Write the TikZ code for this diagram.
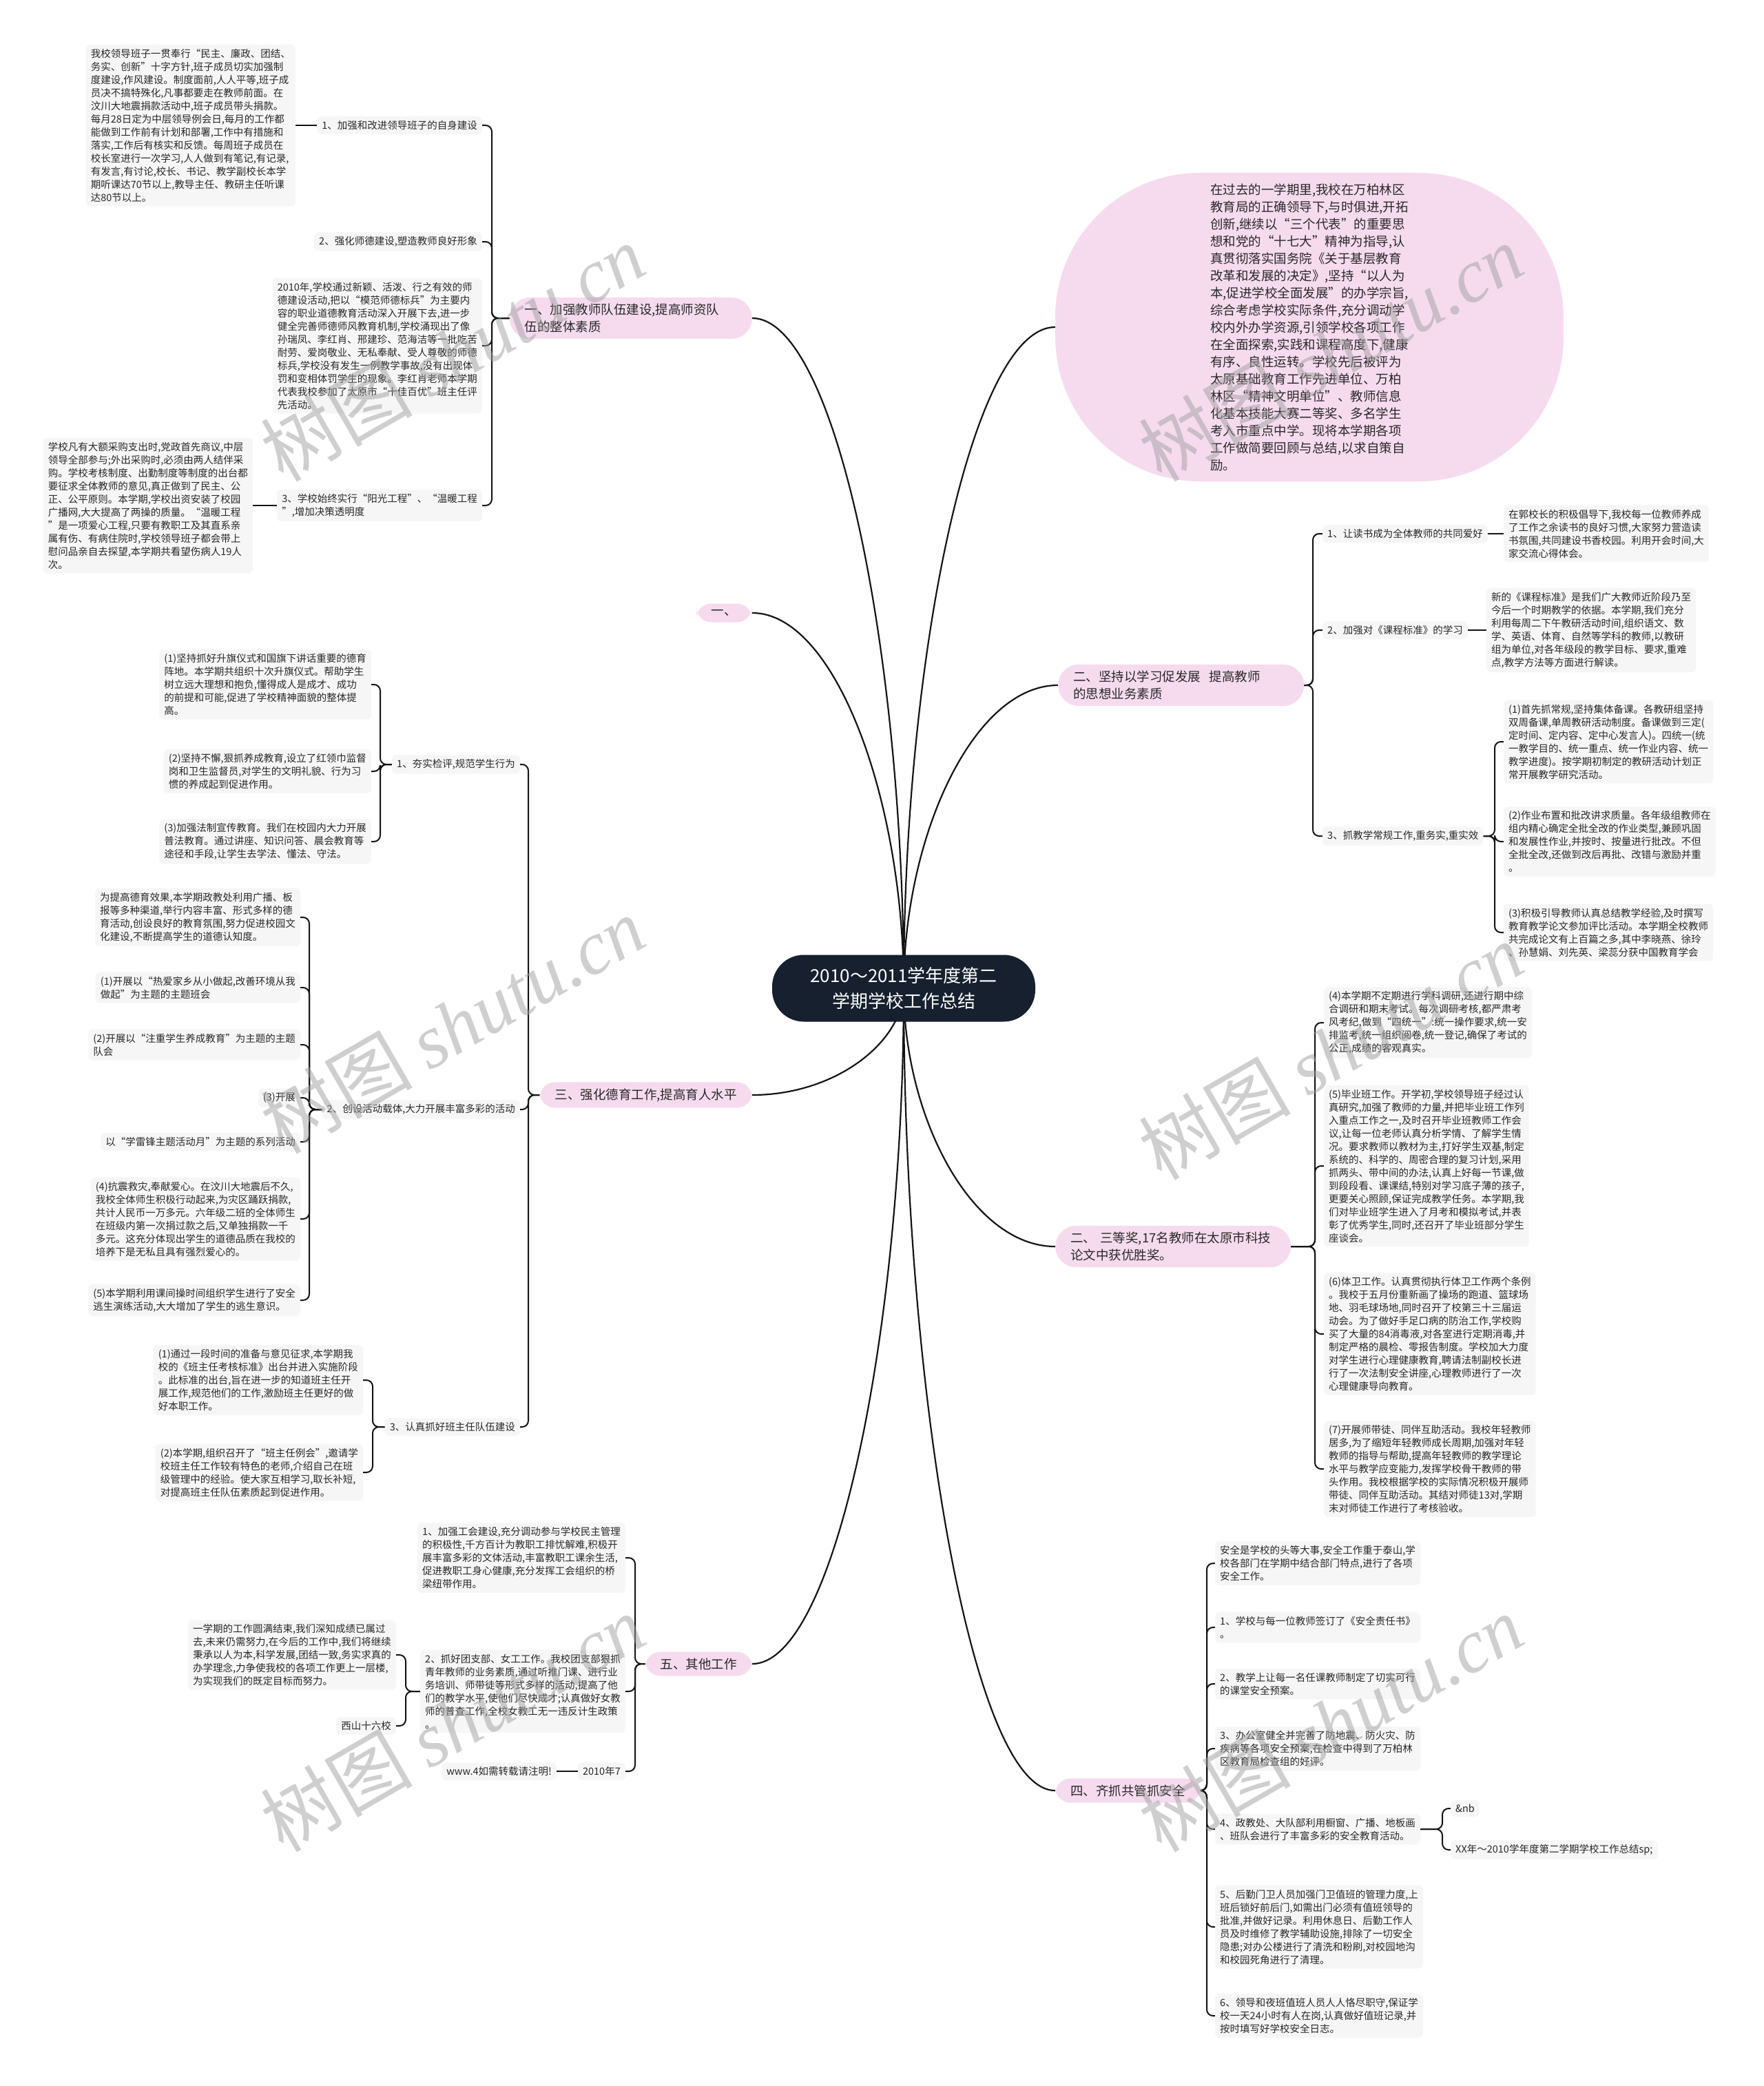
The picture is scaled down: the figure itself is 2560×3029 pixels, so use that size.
\documentclass[tikz,border=0pt]{standalone}
\usepackage{fontspec}
\setmainfont{Noto Sans CJK SC}
\newfontfamily\wmfont{Liberation Serif}
\definecolor{pinkc}{RGB}{246,219,239}
\definecolor{grayc}{RGB}{246,246,246}
\definecolor{navyc}{RGB}{22,32,46}
\definecolor{txtc}{RGB}{40,40,40}
\definecolor{linec}{RGB}{20,20,20}
\definecolor{wmc}{RGB}{160,160,160}
\pgfdeclarelayer{bg}\pgfdeclarelayer{fg}\pgfsetlayers{bg,main,fg}
\newcommand\linkL[3]{\draw[subln] (#1.west) -- (#1.west -| #3) |- (#2.east);}
\newcommand\linkR[3]{\draw[subln] (#1.east) -- (#1.east -| #3) |- (#2.west);}
\begin{document}
\begin{tikzpicture}[x=1pt,y=-1pt,
 gbox/.style={fill=grayc,rounded corners=6pt,inner xsep=7pt,inner ysep=6pt,align=left,text=txtc,font=\fontsize{14.5}{19}\selectfont},
 pbox/.style={fill=pinkc,rounded corners=22pt,inner xsep=22pt,inner ysep=9pt,align=left,text=txtc,font=\fontsize{18.5}{25}\selectfont},
 mainln/.style={draw=linec,line width=2.2pt},
 subln/.style={draw=linec,line width=2pt,rounded corners=9pt},
 wm/.style={text=wmc,opacity=0.5,font=\fontsize{110}{110}\selectfont,rotate=30}]
\useasboundingbox (0,0) rectangle (2560,3029);
\begin{pgfonlayer}{bg}
\fill[white] (0,0) rectangle (2560,3029);
\end{pgfonlayer}
% root
\node[fill=navyc,text=white,rounded corners=46pt,minimum width=382pt,minimum height=97pt,align=center,font=\fontsize{26}{37}\selectfont] (root) at (1312,1435) {2010～2011学年度第二\\学期学校工作总结};
% intro
\node[fill=pinkc,rounded corners=210pt,minimum width=738pt,minimum height=448pt,inner sep=0pt,align=left,text=txtc,font=\fontsize{18.5}{25}\selectfont] (intro) at (1901,475) {在过去的一学期里,我校在万柏林区\\教育局的正确领导下,与时俱进,开拓\\创新,继续以“三个代表”的重要思\\想和党的“十七大”精神为指导,认\\真贯彻落实国务院《关于基层教育\\改革和发展的决定》,坚持“以人为\\本,促进学校全面发展”的办学宗旨,\\综合考虑学校实际条件,充分调动学\\校内外办学资源,引领学校各项工作\\在全面探索,实践和课程高度下,健康\\有序、良性运转。学校先后被评为\\太原基础教育工作先进单位、万柏\\林区“精神文明单位”、教师信息\\化基本技能大赛二等奖、多名学生\\考入市重点中学。现将本学期各项\\工作做简要回顾与总结,以求自策自\\励。};
% main branches
\node[pbox,rounded corners=30pt,text width=308pt,anchor=east] (b1) at (1092,462) {一、加强教师队伍建设,提高师资队\\伍的整体素质};
\node[pbox,anchor=east] (bd) at (1092,890) {一、};
\node[pbox,anchor=east] (b3) at (1092,1590) {三、强化德育工作,提高育人水平};
\node[pbox,anchor=east] (b5) at (1092,2416) {五、其他工作};
\node[pbox,rounded corners=30pt,text width=313pt,anchor=west] (b2) at (1536,995) {二、坚持以学习促发展\ \ 提高教师\\的思想业务素质};
\node[pbox,rounded corners=30pt,text width=298pt,anchor=west] (b2b) at (1532,1810) {二、\ 三等奖,17名教师在太原市科技\\论文中获优胜奖。};
\node[pbox,anchor=west] (b4) at (1532,2600) {四、齐抓共管抓安全};
% trunk coordinates
\coordinate (tb1) at (714,0);
\coordinate (tb3) at (767,0);
\coordinate (tc31) at (552,0);
\coordinate (tc32) at (449,0);
\coordinate (tc33) at (541,0);
\coordinate (tb5) at (922,0);
\coordinate (tc52) at (589,0);
\coordinate (tb2) at (1906,0);
\coordinate (tc23) at (2170,0);
\coordinate (tb2b) at (1909,0);
\coordinate (tb4) at (1752,0);
\coordinate (tc55) at (2094,0);
% branch 1 children
\node[gbox,anchor=east] (c11) at (700,182) {1、加强和改进领导班子的自身建设};
\node[gbox,anchor=east] (t11) at (429,182) {我校领导班子一贯奉行“民主、廉政、团结、\\务实、创新”十字方针,班子成员切实加强制\\度建设,作风建设。制度面前,人人平等,班子成\\员决不搞特殊化,凡事都要走在教师前面。在\\汶川大地震捐款活动中,班子成员带头捐款。\\每月28日定为中层领导例会日,每月的工作都\\能做到工作前有计划和部署,工作中有措施和\\落实,工作后有核实和反馈。每周班子成员在\\校长室进行一次学习,人人做到有笔记,有记录,\\有发言,有讨论,校长、书记、教学副校长本学\\期听课达70节以上,教导主任、教研主任听课\\达80节以上。};
\node[gbox,anchor=east] (c12) at (700,351) {2、强化师德建设,塑造教师良好形象};
\node[gbox,anchor=east] (t12) at (700,502) {2010年,学校通过新颖、活泼、行之有效的师\\德建设活动,把以“模范师德标兵”为主要内\\容的职业道德教育活动深入开展下去,进一步\\健全完善师德师风教育机制,学校涌现出了像\\孙瑞凤、李红肖、邢建珍、范海洁等一批吃苦\\耐劳、爱岗敬业、无私奉献、受人尊敬的师德\\标兵,学校没有发生一例教学事故,没有出现体\\罚和变相体罚学生的现象。李红肖老师本学期\\代表我校参加了太原市“十佳百优”班主任评\\先活动。};
\node[gbox,anchor=east] (c13) at (700,734) {3、学校始终实行“阳光工程”、“温暖工程\\”,增加决策透明度};
\node[gbox,anchor=east] (t13) at (367,734) {学校凡有大额采购支出时,党政首先商议,中层\\领导全部参与;外出采购时,必须由两人结伴采\\购。学校考核制度、出勤制度等制度的出台都\\要征求全体教师的意见,真正做到了民主、公\\正、公平原则。本学期,学校出资安装了校园\\广播网,大大提高了两操的质量。“温暖工程\\”是一项爱心工程,只要有教职工及其直系亲\\属有伤、有病住院时,学校领导班子都会带上\\慰问品亲自去探望,本学期共看望伤病人19人\\次。};
% branch 3 children
\node[gbox,anchor=east] (c31) at (755,1110) {1、夯实检评,规范学生行为};
\node[gbox,anchor=east] (t311) at (539,994) {(1)坚持抓好升旗仪式和国旗下讲话重要的德育\\阵地。本学期共组织十次升旗仪式。帮助学生\\树立远大理想和抱负,懂得成人是成才、成功\\的前提和可能,促进了学校精神面貌的整体提\\高。};
\node[gbox,anchor=east] (t312) at (539,1120) {(2)坚持不懈,狠抓养成教育,设立了红领巾监督\\岗和卫生监督员,对学生的文明礼貌、行为习\\惯的养成起到促进作用。};
\node[gbox,anchor=east] (t313) at (539,1222) {(3)加强法制宣传教育。我们在校园内大力开展\\普法教育。通过讲座、知识问答、晨会教育等\\途径和手段,让学生去学法、懂法、守法。};
\node[gbox,anchor=east] (c32) at (755,1611) {2、创设活动载体,大力开展丰富多彩的活动};
\node[gbox,anchor=east] (t321) at (436,1332) {为提高德育效果,本学期政教处利用广播、板\\报等多种渠道,举行内容丰富、形式多样的德\\育活动,创设良好的教育氛围,努力促进校园文\\化建设,不断提高学生的道德认知度。};
\node[gbox,anchor=east] (t322) at (436,1434) {(1)开展以“热爱家乡从小做起,改善环境从我\\做起”为主题的主题班会};
\node[gbox,anchor=east] (t323) at (436,1517) {(2)开展以“注重学生养成教育”为主题的主题\\队会};
\node[gbox,anchor=east] (t324) at (436,1594) {(3)开展};
\node[gbox,anchor=east] (t325) at (436,1658) {以“学雷锋主题活动月”为主题的系列活动};
\node[gbox,anchor=east] (t326) at (436,1770) {(4)抗震救灾,奉献爱心。在汶川大地震后不久,\\我校全体师生积极行动起来,为灾区踊跃捐款,\\共计人民币一万多元。六年级二班的全体师生\\在班级内第一次捐过款之后,又单独捐款一千\\多元。这充分体现出学生的道德品质在我校的\\培养下是无私且具有强烈爱心的。};
\node[gbox,anchor=east] (t327) at (436,1888) {(5)本学期利用课间操时间组织学生进行了安全\\逃生演练活动,大大增加了学生的逃生意识。};
\node[gbox,anchor=east] (c33) at (755,2072) {3、认真抓好班主任队伍建设};
\node[gbox,anchor=east] (t331) at (527,2004) {(1)通过一段时间的准备与意见征求,本学期我\\校的《班主任考核标准》出台并进入实施阶段\\。此标准的出台,旨在进一步的知道班主任开\\展工作,规范他们的工作,激励班主任更好的做\\好本职工作。};
\node[gbox,anchor=east] (t332) at (527,2138) {(2)本学期,组织召开了“班主任例会”,邀请学\\校班主任工作较有特色的老师,介绍自己在班\\级管理中的经验。使大家互相学习,取长补短,\\对提高班主任队伍素质起到促进作用。};
% branch 5 children
\node[gbox,anchor=east] (c51) at (908,2262) {1、加强工会建设,充分调动参与学校民主管理\\的积极性,千方百计为教职工排忧解难,积极开\\展丰富多彩的文体活动,丰富教职工课余生活,\\促进教职工身心健康,充分发挥工会组织的桥\\梁纽带作用。};
\node[gbox,anchor=east] (c52) at (908,2456) {2、抓好团支部、女工工作。我校团支部狠抓\\青年教师的业务素质,通过听推门课、进行业\\务培训、师带徒等形式多样的活动,提高了他\\们的教学水平,使他们尽快成才;认真做好女教\\师的普查工作,全校女教工无一违反计生政策\\。};
\node[gbox,anchor=east] (c53) at (908,2572) {2010年7};
\node[gbox,anchor=east] (t531) at (808,2572) {www.4如需转载请注明!};
\node[gbox,anchor=east] (t521) at (575,2403) {一学期的工作圆满结束,我们深知成绩已属过\\去,未来仍需努力,在今后的工作中,我们将继续\\秉承以人为本,科学发展,团结一致,务实求真的\\办学理念,力争使我校的各项工作更上一层楼,\\为实现我们的既定目标而努力。};
\node[gbox,anchor=east] (t522) at (575,2506) {西山十六校};
% branch 2 children
\node[gbox,anchor=west] (c21) at (1920,775) {1、让读书成为全体教师的共同爱好};
\node[gbox,anchor=west] (t21) at (2183,775) {在郭校长的积极倡导下,我校每一位教师养成\\了工作之余读书的良好习惯,大家努力营造读\\书氛围,共同建设书香校园。利用开会时间,大\\家交流心得体会。};
\node[gbox,anchor=west] (c22) at (1920,915) {2、加强对《课程标准》的学习};
\node[gbox,anchor=west] (t22) at (2158,915) {新的《课程标准》是我们广大教师近阶段乃至\\今后一个时期教学的依据。本学期,我们充分\\利用每周二下午教研活动时间,组织语文、数\\学、英语、体育、自然等学科的教师,以教研\\组为单位,对各年级段的教学目标、要求,重难\\点,教学方法等方面进行解读。};
\node[gbox,anchor=west] (c23) at (1920,1214) {3、抓教学常规工作,重务实,重实效};
\node[gbox,anchor=west] (t231) at (2183,1077) {(1)首先抓常规,坚持集体备课。各教研组坚持\\双周备课,单周教研活动制度。备课做到三定(\\定时间、定内容、定中心发言人)。四统一(统\\一教学目的、统一重点、统一作业内容、统一\\教学进度)。按学期初制定的教研活动计划正\\常开展教学研究活动。};
\node[gbox,anchor=west] (t232) at (2183,1222) {(2)作业布置和批改讲求质量。各年级组教师在\\组内精心确定全批全改的作业类型,兼顾巩固\\和发展性作业,并按时、按量进行批改。不但\\全批全改,还做到改后再批、改错与激励并重\\。};
\node[gbox,anchor=west] (t233) at (2183,1354) {(3)积极引导教师认真总结教学经验,及时撰写\\教育教学论文参加评比活动。本学期全校教师\\共完成论文有上百篇之多,其中李晓燕、徐玲\\、孙慧娟、刘先英、梁蕊分获中国教育学会};
% branch 2b children
\node[gbox,anchor=west] (t41) at (1922,1485) {(4)本学期不定期进行学科调研,还进行期中综\\合调研和期末考试。每次调研考核,都严肃考\\风考纪,做到“四统一”:统一操作要求,统一安\\排监考,统一组织阅卷,统一登记,确保了考试的\\公正,成绩的客观真实。};
\node[gbox,anchor=west] (t42) at (1922,1693) {(5)毕业班工作。开学初,学校领导班子经过认\\真研究,加强了教师的力量,并把毕业班工作列\\入重点工作之一,及时召开毕业班教师工作会\\议,让每一位老师认真分析学情、了解学生情\\况。要求教师以教材为主,打好学生双基,制定\\系统的、科学的、周密合理的复习计划,采用\\抓两头、带中间的办法,认真上好每一节课,做\\到段段看、课课结,特别对学习底子薄的孩子,\\更要关心照顾,保证完成教学任务。本学期,我\\们对毕业班学生进入了月考和模拟考试,并表\\彰了优秀学生,同时,还召开了毕业班部分学生\\座谈会。};
\node[gbox,anchor=west] (t43) at (1922,1937) {(6)体卫工作。认真贯彻执行体卫工作两个条例\\。我校于五月份重新画了操场的跑道、篮球场\\地、羽毛球场地,同时召开了校第三十三届运\\动会。为了做好手足口病的防治工作,学校购\\买了大量的84消毒液,对各室进行定期消毒,并\\制定严格的晨检、零报告制度。学校加大力度\\对学生进行心理健康教育,聘请法制副校长进\\行了一次法制安全讲座,心理教师进行了一次\\心理健康导向教育。};
\node[gbox,anchor=west] (t44) at (1922,2133) {(7)开展师带徒、同伴互助活动。我校年轻教师\\居多,为了缩短年轻教师成长周期,加强对年轻\\教师的指导与帮助,提高年轻教师的教学理论\\水平与教学应变能力,发挥学校骨干教师的带\\头作用。我校根据学校的实际情况积极开展师\\带徒、同伴互助活动。其结对师徒13对,学期\\末对师徒工作进行了考核验收。};
% branch 4 children
\node[gbox,anchor=west] (t51) at (1764,2270) {安全是学校的头等大事,安全工作重于泰山,学\\校各部门在学期中结合部门特点,进行了各项\\安全工作。};
\node[gbox,anchor=west] (t52) at (1764,2363) {1、学校与每一位教师签订了《安全责任书》\\。};
\node[gbox,anchor=west] (t53) at (1764,2445) {2、教学上让每一名任课教师制定了切实可行\\的课堂安全预案。};
\node[gbox,anchor=west] (t54) at (1764,2539) {3、办公室健全并完善了防地震、防火灾、防\\疾病等各项安全预案,在检查中得到了万柏林\\区教育局检查组的好评。};
\node[gbox,anchor=west] (t55) at (1764,2656) {4、政教处、大队部利用橱窗、广播、地板画\\、班队会进行了丰富多彩的安全教育活动。};
\node[gbox,anchor=west] (t551) at (2106,2626) {\&nb};
\node[gbox,anchor=west] (t552) at (2106,2686) {XX年～2010学年度第二学期学校工作总结sp;};
\node[gbox,anchor=west] (t56) at (1764,2798) {5、后勤门卫人员加强门卫值班的管理力度,上\\班后锁好前后门,如需出门必须有值班领导的\\批准,并做好记录。利用休息日、后勤工作人\\员及时维修了教学辅助设施,排除了一切安全\\隐患;对办公楼进行了清洗和粉刷,对校园地沟\\和校园死角进行了清理。};
\node[gbox,anchor=west] (t57) at (1764,2927) {6、领导和夜班值班人员人人恪尽职守,保证学\\校一天24小时有人在岗,认真做好值班记录,并\\按时填写好学校安全日志。};
% connectors
\begin{pgfonlayer}{bg}
\draw[mainln] (root.center) .. controls (1312,949) and (1213,462) .. (b1.east);
\draw[mainln] (root.center) .. controls (1312,1163) and (1213,890) .. (bd.east);
\draw[mainln] (root.center) .. controls (1312,1513) and (1213,1590) .. (b3.east);
\draw[mainln] (root.center) .. controls (1312,1926) and (1213,2416) .. (b5.east);
\draw[mainln] (root.center) .. controls (1312,955) and (1411,475) .. (intro.west);
\draw[mainln] (root.center) .. controls (1312,1215) and (1413,995) .. (b2.west);
\draw[mainln] (root.center) .. controls (1312,1623) and (1411,1810) .. (b2b.west);
\draw[mainln] (root.center) .. controls (1312,2018) and (1411,2600) .. (b4.west);
\linkL{b1}{c11}{tb1}\linkL{b1}{c12}{tb1}\linkL{b1}{t12}{tb1}\linkL{b1}{c13}{tb1}
\draw[subln] (c11.west) -- (t11.east);
\draw[subln] (c13.west) -- (t13.east);
\linkL{b3}{c31}{tb3}\linkL{b3}{c32}{tb3}\linkL{b3}{c33}{tb3}
\linkL{c31}{t311}{tc31}\linkL{c31}{t312}{tc31}\linkL{c31}{t313}{tc31}
\linkL{c32}{t321}{tc32}\linkL{c32}{t322}{tc32}\linkL{c32}{t323}{tc32}\linkL{c32}{t324}{tc32}
\linkL{c32}{t325}{tc32}\linkL{c32}{t326}{tc32}\linkL{c32}{t327}{tc32}
\linkL{c33}{t331}{tc33}\linkL{c33}{t332}{tc33}
\linkL{b5}{c51}{tb5}\linkL{b5}{c52}{tb5}\linkL{b5}{c53}{tb5}
\draw[subln] (c53.west) -- (t531.east);
\linkL{c52}{t521}{tc52}\linkL{c52}{t522}{tc52}
\linkR{b2}{c21}{tb2}\linkR{b2}{c22}{tb2}\linkR{b2}{c23}{tb2}
\draw[subln] (c21.east) -- (t21.west);
\draw[subln] (c22.east) -- (t22.west);
\linkR{c23}{t231}{tc23}\linkR{c23}{t232}{tc23}\linkR{c23}{t233}{tc23}
\linkR{b2b}{t41}{tb2b}\linkR{b2b}{t42}{tb2b}\linkR{b2b}{t43}{tb2b}\linkR{b2b}{t44}{tb2b}
\linkR{b4}{t51}{tb4}\linkR{b4}{t52}{tb4}\linkR{b4}{t53}{tb4}\linkR{b4}{t54}{tb4}
\linkR{b4}{t55}{tb4}\linkR{b4}{t56}{tb4}\linkR{b4}{t57}{tb4}
\linkR{t55}{t551}{tc55}\linkR{t55}{t552}{tc55}
\end{pgfonlayer}
% watermarks
\begin{pgfonlayer}{fg}
\node[wm] (w1) at (657,512) {树图 {\wmfont\itshape shutu.cn}};
\node[wm] (w2) at (1932,512) {树图 {\wmfont\itshape shutu.cn}};
\node[wm] (w3) at (657,1488) {树图 {\wmfont\itshape shutu.cn}};
\node[wm] (w4) at (1932,1526) {树图 {\wmfont\itshape shutu.cn}};
\node[wm] (w5) at (657,2502) {树图 {\wmfont\itshape shutu.cn}};
\node[wm] (w6) at (1932,2502) {树图 {\wmfont\itshape shutu.cn}};
\end{pgfonlayer}
\end{tikzpicture}
\end{document}
